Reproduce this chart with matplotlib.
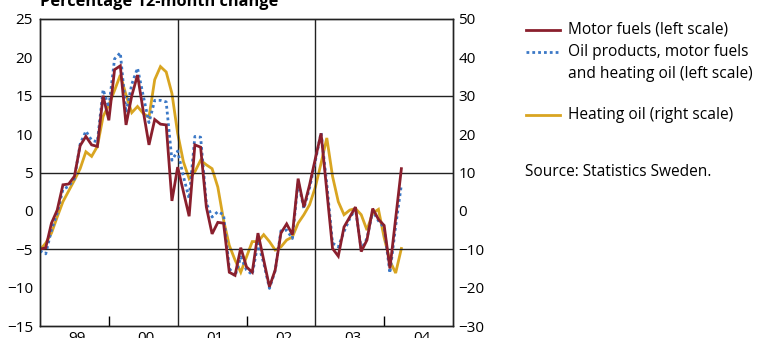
import numpy as np
import pandas as pd
import matplotlib
matplotlib.use("Agg")
import matplotlib.pyplot as plt
import matplotlib.transforms as mtransforms
from matplotlib.lines import Line2D

plt.rcParams['font.family'] = ['Open Sans', 'DejaVu Sans']

# Monatsdaten Jan 1999 - Apr 2004
months = pd.date_range("1999-01-01", periods=64, freq="MS")

motor_fuels = [
    -5.0, -4.8, -1.6, 0.1, 3.4, 3.5, 4.5, 8.5, 9.7, 8.6, 8.4, 15.0,
    11.8, 18.4, 18.9, 11.2, 15.0, 17.7, 13.0, 8.6, 11.9, 11.3, 11.2, 1.3,
    5.7, 2.5, -0.7, 8.6, 8.3, 0.5, -3.0, -1.5, -1.6, -8.0, -8.4, -4.8,
    -7.3, -8.0, -2.9, -6.4, -9.9, -7.7, -2.9, -1.7, -3.1, 4.2, 0.5, 3.4,
    6.8, 10.1, 2.6, -4.9, -5.9, -2.1, -0.8, 0.5, -5.3, -3.8, 0.3, -1.1,
    -1.9, -7.5, -1.0, 5.5,
]
oil_products = [
    -5.2, -5.6, -2.5, -0.3, 2.8, 3.2, 4.2, 8.7, 10.4, 9.2, 9.0, 15.8,
    13.5, 19.8, 20.6, 12.8, 16.5, 18.6, 15.0, 11.5, 14.4, 14.4, 14.2, 6.6,
    7.8, 4.5, 1.6, 9.7, 9.6, 1.0, -0.8, -0.1, -0.5, -7.5, -8.5, -6.0,
    -7.7, -8.3, -4.2, -6.8, -10.1, -7.8, -2.6, -2.5, -3.6, 3.8, 0.3, 3.0,
    6.5, 10.2, 3.5, -4.2, -4.7, -2.7, -1.0, 0.3, -5.0, -3.6, 0.0, -1.3,
    -2.2, -8.1, -2.0, 3.4,
]
heating_oil = [
    -10.2, -8.4, -5.8, -1.6, 2.4, 5.2, 8.0, 11.0, 15.4, 14.2, 16.8, 24.6,
    27.6, 31.4, 35.4, 30.2, 25.6, 27.2, 25.4, 24.4, 34.2, 37.6, 36.2, 30.6,
    20.2, 12.8, 8.4, 10.2, 13.2, 12.0, 11.0, 6.2, -2.4, -9.0, -12.8, -16.0,
    -12.0, -8.0, -8.0, -6.2, -8.0, -10.2, -9.4, -7.6, -6.8, -3.2, -1.0, 1.6,
    6.2, 12.4, 19.0, 9.0, 2.4, -1.0, 0.2, 0.6, -1.0, -5.0, -0.6, 0.4,
    -7.0, -13.0, -16.2, -9.8,
]
year_labels = ["99", "00", "01", "02", "03", "04"]

red = "#8a1f2d"
blue = "#3b78c6"
gold = "#d9a521"

x = months.year + (months.month - 1) / 12

fig = plt.figure(figsize=(7.61, 3.38), dpi=100)
ax = fig.add_axes([40/761, 12/338, 413/761, 307/338])
ax2 = ax.twinx()
ax.set_zorder(ax2.get_zorder() + 1)
ax.patch.set_visible(False)

ax2.plot(x, heating_oil, color=gold, lw=2.0, solid_joinstyle="miter")
ax.plot(x, oil_products, color=blue, lw=2.0, linestyle=(0, (1, 1.1)))
ax.plot(x, motor_fuels, color=red, lw=2.0, solid_joinstyle="miter")

ax.set_xlim(1999, 2005)
ax.set_ylim(-15, 25)
ax2.set_ylim(-30, 50)

# Gitterlinien
for v in [15, 5, -5]:
    ax.axhline(v, color="#222222", lw=1.0, zorder=1)
for yr in [2001, 2003]:
    ax.axvline(yr, color="#222222", lw=1.0, zorder=1)

# x-Achse
ax.set_xticks([2000, 2002, 2004])
ax.set_xticklabels([])
ax.tick_params(axis="x", which="major", direction="in", length=7, width=1.0)
ax.set_xticks(np.arange(1999.5, 2005, 1), minor=True)
ax.set_xticklabels(year_labels, minor=True)
ax.tick_params(axis="x", which="minor", length=0, pad=3.5, labelsize=11)
shift = mtransforms.ScaledTranslation(3/100, 0, fig.dpi_scale_trans)
for lab in ax.get_xticklabels(minor=True):
    lab.set_transform(lab.get_transform() + shift)

# linke Achse
ax.set_yticks(np.arange(-15, 26, 5))
ax.tick_params(axis="y", which="major", length=0, pad=5, labelsize=11)
ax.set_yticks([-10, 0, 10, 20], minor=True)
ax.tick_params(axis="y", which="minor", direction="in", length=7, width=1.0)

# rechte Achse
ax2.set_yticks(np.arange(-30, 51, 10))
ax2.tick_params(axis="y", which="major", length=0, pad=4, labelsize=11)
ax2.set_yticks([-20, 0, 20, 40], minor=True)
ax2.tick_params(axis="y", which="minor", direction="in", length=7, width=1.0)

for a in (ax, ax2):
    for s in a.spines.values():
        s.set_linewidth(1.0)
        s.set_color("#222222")

fig.text(40/761, 1 - 6.5/338, "Percentage 12-month change", fontsize=11.8,
         fontweight="bold", va="baseline", ha="left")

# Legende
def fy(py):
    return 1 - py/338

fig.add_artist(Line2D([526/761, 560/761], [fy(30), fy(30)], color=red, lw=2.0))
fig.add_artist(Line2D([526/761, 560/761], [fy(52), fy(52)], color=blue, lw=2.0,
                      linestyle=(0, (1, 1.1))))
fig.add_artist(Line2D([526/761, 560/761], [fy(115), fy(115)], color=gold, lw=2.0))
tx = 568/761
fs = 11.2
fig.text(tx, fy(30), "Motor fuels (left scale)", fontsize=fs, va="center")
fig.text(tx, fy(52), "Oil products, motor fuels", fontsize=fs, va="center")
fig.text(tx, fy(74), "and heating oil (left scale)", fontsize=fs, va="center")
fig.text(tx, fy(115), "Heating oil (right scale)", fontsize=fs, va="center")
fig.text(525/761, fy(172.5), "Source: Statistics Sweden.", fontsize=fs, va="center")

fig.savefig("out.png", dpi=100)
